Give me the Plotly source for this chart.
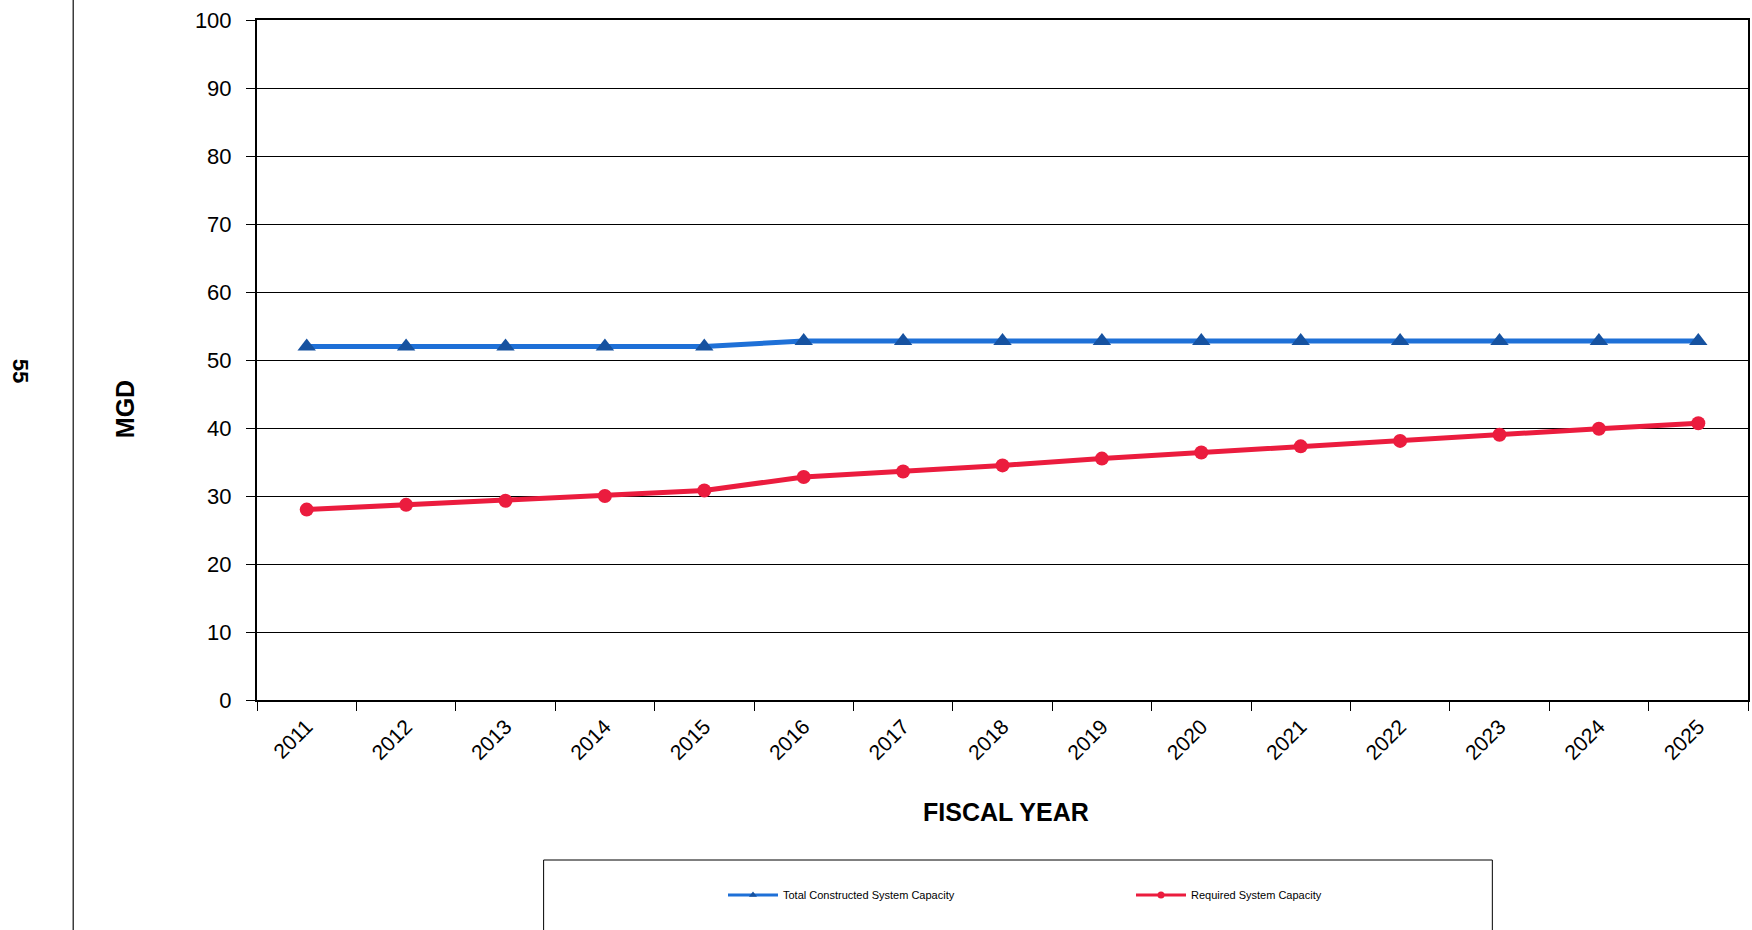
import plotly.graph_objects as go

years = [str(y) for y in range(2011, 2026)]
constructed = [52, 52, 52, 52, 52, 52.8, 52.8, 52.8, 52.8, 52.8, 52.8, 52.8, 52.8, 52.8, 52.8]
required = [28, 28.7, 29.3, 30.0, 30.8, 32.8, 33.6, 34.5, 35.5, 36.4, 37.3, 38.1, 39.0, 39.9, 40.7]
y_ticks = list(range(0, 101, 10))

FONT = "Arial, Liberation Sans, sans-serif"
BLUE_LINE = "rgb(30,112,215)"
BLUE_MARK = "rgb(22,82,160)"
RED = "rgb(235,28,62)"

# plot area in pixels
L, R, T, B = 257, 2, 20, 230
W, H = 1752, 930
PW = W - L - R
PH = H - T - B

def px(x):
    return (x - L) / PW

def py(y):
    return (H - B - y) / PH

fig = go.Figure()
fig.add_trace(go.Scatter(
    x=years, y=constructed, mode="lines+markers", showlegend=False,
    line=dict(color=BLUE_LINE, width=5),
    marker=dict(symbol="triangle-up", size=16, color=BLUE_MARK),
))
fig.add_trace(go.Scatter(
    x=years, y=required, mode="lines+markers", showlegend=False,
    line=dict(color=RED, width=5),
    marker=dict(symbol="circle", size=14, color=RED),
))
# legend entries
fig.add_trace(go.Scatter(
    x=[None], y=[None], mode="lines+markers", name="Total Constructed System Capacity",
    line=dict(color=BLUE_LINE, width=3),
    marker=dict(symbol="triangle-up", size=7, color=BLUE_MARK),
))
fig.add_trace(go.Scatter(
    x=[None], y=[None], mode="lines+markers", name="Required System Capacity",
    line=dict(color=RED, width=3),
    marker=dict(symbol="circle", size=7, color=RED),
))

fig.update_layout(
    width=W, height=H,
    margin=dict(l=L, r=R, t=T, b=B, pad=0),
    paper_bgcolor="white", plot_bgcolor="white",
    font=dict(family=FONT, color="black"),
    legend=dict(
        orientation="h", xref="container", yref="container",
        x=723 / W, y=1 - 895 / H, xanchor="left", yanchor="middle",
        font=dict(size=11, family=FONT), entrywidth=343, entrywidthmode="pixels",
        itemwidth=50,
        bgcolor="rgba(0,0,0,0)", borderwidth=0,
    ),
    xaxis=dict(
        type="category", range=[-0.5, 14.5], tickson="boundaries",
        ticks="outside", ticklen=9, tickcolor="black", tickwidth=1,
        tickangle=-45, tickfont=dict(size=21, family=FONT), ticklabelstandoff=4,
        showgrid=False, showline=True, linecolor="black", linewidth=2, mirror=True,
        zeroline=False,
    ),
    yaxis=dict(
        range=[0, 100], tickvals=y_ticks,
        ticks="outside", ticklen=9, tickcolor="black", tickwidth=1,
        tickfont=dict(size=22, family=FONT), ticklabelstandoff=10,
        showgrid=True, gridcolor="black", gridwidth=1,
        showline=True, linecolor="black", linewidth=2, mirror=True,
        zeroline=False,
    ),
    shapes=[
        dict(type="rect", xref="paper", yref="paper",
             x0=px(544), x1=px(1494), y0=py(860), y1=py(940),
             line=dict(color="black", width=1), fillcolor="rgba(0,0,0,0)", layer="below"),
        dict(type="line", xref="paper", yref="paper",
             x0=px(73), x1=px(73), y0=py(-5), y1=py(935),
             line=dict(color="rgb(60,60,60)", width=1.5)),
    ],
    annotations=[
        dict(text="<b>FISCAL YEAR</b>", xref="paper", yref="paper",
             x=px(1007), y=py(812), showarrow=False, xanchor="center", yanchor="middle",
             font=dict(size=25, family=FONT)),
        dict(text="<b>MGD</b>", xref="paper", yref="paper",
             x=px(125), y=py(409), showarrow=False, xanchor="center", yanchor="middle",
             textangle=-90, font=dict(size=25, family=FONT)),
        dict(text="<b>55</b>", xref="paper", yref="paper",
             x=px(20), y=py(371), showarrow=False, xanchor="center", yanchor="middle",
             textangle=90, font=dict(size=22, family=FONT)),
    ],
)

fig.write_html("out.html")
